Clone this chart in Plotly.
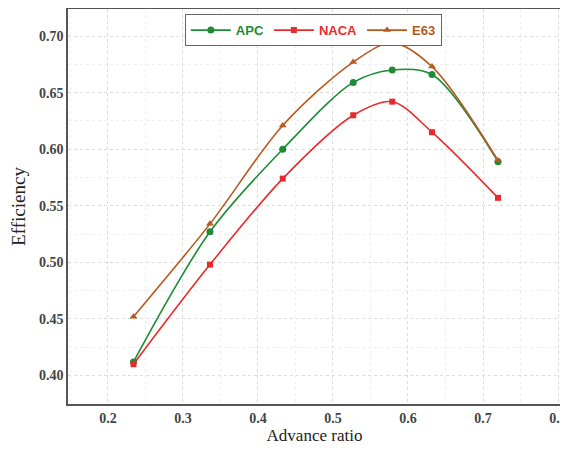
import plotly.graph_objects as go

advance_ratio = [0.234, 0.336, 0.433, 0.527, 0.579, 0.632, 0.72]
apc = [0.412, 0.527, 0.600, 0.659, 0.670, 0.666, 0.589]
naca = [0.410, 0.498, 0.574, 0.630, 0.642, 0.615, 0.557]
e63 = [0.452, 0.534, 0.621, 0.677, 0.694, 0.673, 0.590]

series = [
    ("APC", apc, "#1e8c35", "circle", 7),
    ("NACA", naca, "#ea2a2a", "square", 6),
    ("E63", e63, "#b8591f", "triangle-up", 7),
]

fig = go.Figure()
for name, ys, color, sym, sz in series:
    fig.add_trace(go.Scatter(
        x=advance_ratio, y=ys, mode="lines+markers",
        name=f"<span style='color:{color}'><b>{name}</b></span>",
        line=dict(color=color, width=1.6, shape="spline", smoothing=0.9),
        marker=dict(symbol=sym, size=sz, color=color),
    ))

axis_common = dict(
    showline=True, linecolor="#555", linewidth=1.5, mirror=True,
    ticks="", showgrid=True, gridcolor="#dcdcdc", griddash="dot", gridwidth=1,
    tickfont=dict(family="Liberation Serif", size=14, color="#444", weight="bold"),
    zeroline=False, automargin=False,
)
fig.update_xaxes(range=[0.1467, 0.804], dtick=0.1, tick0=0.2,
                 title=dict(text="Advance ratio", font=dict(family="Liberation Serif", size=17, color="#222"), standoff=4),
                 minor=dict(showgrid=True, gridcolor="#efefef", dtick=0.05),
                 **axis_common)
fig.update_yaxes(range=[0.3748, 0.7239], dtick=0.05, tick0=0.4, tickformat=".2f",
                 title=dict(text="Efficiency", font=dict(family="Liberation Serif", size=19, color="#222"), standoff=8),
                 minor=dict(showgrid=True, gridcolor="#efefef", dtick=0.025),
                 **axis_common)

fig.update_layout(
    width=560, height=445,
    margin=dict(l=60, r=7, t=1, b=49),
    plot_bgcolor="white", paper_bgcolor="white",
    legend=dict(orientation="h", x=0.237, y=0.987, xanchor="left", yanchor="top",
                bordercolor="#666", borderwidth=1, bgcolor="white",
                font=dict(family="Liberation Sans", size=13),
                itemwidth=40, tracegroupgap=0),
    showlegend=True,
)

fig.write_html("out.html")
